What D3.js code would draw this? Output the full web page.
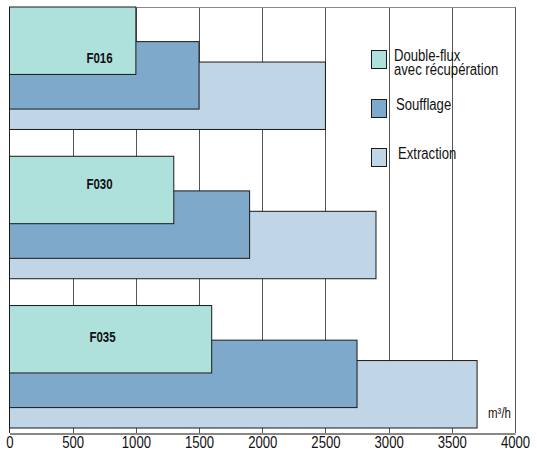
<!DOCTYPE html>
<html>
<head>
<meta charset="utf-8">
<script src="https://cdn.jsdelivr.net/npm/d3@7/dist/d3.min.js"></script>
<style>
  body { margin: 0; background: #fff; }
  text { font-family: "Liberation Sans", Arial, Helvetica, sans-serif; fill: #111; }
</style>
</head>
<body>
<svg id="chart" width="537" height="452"></svg>
<script>
// data (m3/h)
const groups = ['F016', 'F030', 'F035'];
const seriesNames = ['Double-flux avec récupération', 'Soufflage', 'Extraction'];
const doubleFlux = [1000, 1300, 1600];
const soufflage = [1500, 1900, 2750];
const extraction = [2500, 2900, 3700];
const tickValues = [0, 500, 1000, 1500, 2000, 2500, 3000, 3500, 4000];
const unitLabel = 'm³/h';

// layout
const plotLeft = 9.5, plotRight = 515, plotTop = 7, plotBottom = 433;
const narrow = 0.82; // condensed look of the original font
const colors = ['#aee0dc', '#7ea9cb', '#c0d5e5'];
// offset and height of each sub-bar inside a group band (fractions)
const subOffset = [0, 0.285, 0.453];
const subHeight = 0.555;
// label placement inside the double-flux bar
const labelDx = [90, 90, 93];
const labelDy = [56, 33, 36];

const svg = d3.select('#chart');

const x = d3.scaleLinear().domain([0, 4000]).range([plotLeft, plotRight]);
const y = d3.scaleBand().domain(groups).range([plotTop, plotBottom])
  .paddingInner(0.186).paddingOuter(0.02).align(0);

// grid lines + frame
svg.append('g').selectAll('line.grid')
  .data(tickValues.slice(1))
  .enter().append('line')
  .attr('x1', d => Math.round(x(d)) + 0.5).attr('x2', d => Math.round(x(d)) + 0.5)
  .attr('y1', plotTop).attr('y2', plotBottom)
  .attr('stroke', '#555').attr('stroke-width', 1);

svg.append('line')
  .attr('x1', plotLeft).attr('x2', Math.round(x(4000)) + 0.5)
  .attr('y1', plotTop + 0.5).attr('y2', plotTop + 0.5)
  .attr('stroke', '#888');
svg.append('line')
  .attr('x1', plotLeft).attr('x2', plotLeft)
  .attr('y1', plotTop).attr('y2', plotBottom)
  .attr('stroke', '#222');

// bars, extraction at the back, double-flux on top
const seriesValues = [doubleFlux, soufflage, extraction];
const rows = [];
[2, 1, 0].forEach(s => {
  groups.forEach((g, i) => rows.push({ s: s, g: g, i: i, v: seriesValues[s][i] }));
});

svg.append('g').selectAll('rect.bar')
  .data(rows)
  .enter().append('rect')
  .attr('class', 'bar')
  .attr('x', x(0))
  .attr('y', d => y(d.g) + subOffset[d.s] * y.bandwidth())
  .attr('width', d => x(d.v) - x(0))
  .attr('height', subHeight * y.bandwidth())
  .attr('fill', d => colors[d.s])
  .attr('stroke', '#1a1a1a')
  .attr('stroke-width', 1);

// group labels
svg.append('g').selectAll('text.glabel')
  .data(groups)
  .enter().append('text')
  .attr('transform', (d, i) => `translate(${x(0) + labelDx[i]},${y(d) + labelDy[i]}) scale(${narrow},1)`)
  .attr('text-anchor', 'middle')
  .style('font-size', '14px')
  .style('font-weight', 'bold')
  .text(d => d);

// x axis
const axis = d3.axisBottom(x).tickValues(tickValues).tickSize(0).tickPadding(3).tickSizeOuter(0)
  .tickFormat(d3.format('d'));
const ax = svg.append('g').attr('transform', `translate(0,${plotBottom + 0.5})`).call(axis);
ax.select('.domain').attr('stroke', '#111');
ax.selectAll('text')
  .attr('transform', `scale(${narrow},1)`)
  .style('font-size', '16px')
  .style('font-family', '"Liberation Sans", Arial, sans-serif')
  .attr('fill', '#111');

// unit
svg.append('text')
  .attr('transform', `translate(511,418) scale(${narrow},1)`)
  .attr('text-anchor', 'end')
  .style('font-size', '14px')
  .text(unitLabel);

// legend
const legendY = [50, 99, 148];
const legendTextX = [394, 396, 398];
const legendLines = [['Double-flux', 'avec récupération'], ['Soufflage'], ['Extraction']];
const leg = svg.append('g').selectAll('g.leg')
  .data(seriesNames)
  .enter().append('g');

leg.append('rect')
  .attr('x', 371.5).attr('y', (d, i) => legendY[i] + 0.5)
  .attr('width', 15).attr('height', 18)
  .attr('fill', (d, i) => colors[i])
  .attr('stroke', '#1a1a1a');

leg.each(function (d, i) {
  const lines = legendLines[i];
  const base = legendY[i] + 11;
  lines.forEach((t, k) => {
    d3.select(this).append('text')
      .attr('transform', `translate(${legendTextX[i]},${base + k * 14}) scale(${narrow},1)`)
      .style('font-size', '16px')
      .text(t);
  });
});
</script>
</body>
</html>
